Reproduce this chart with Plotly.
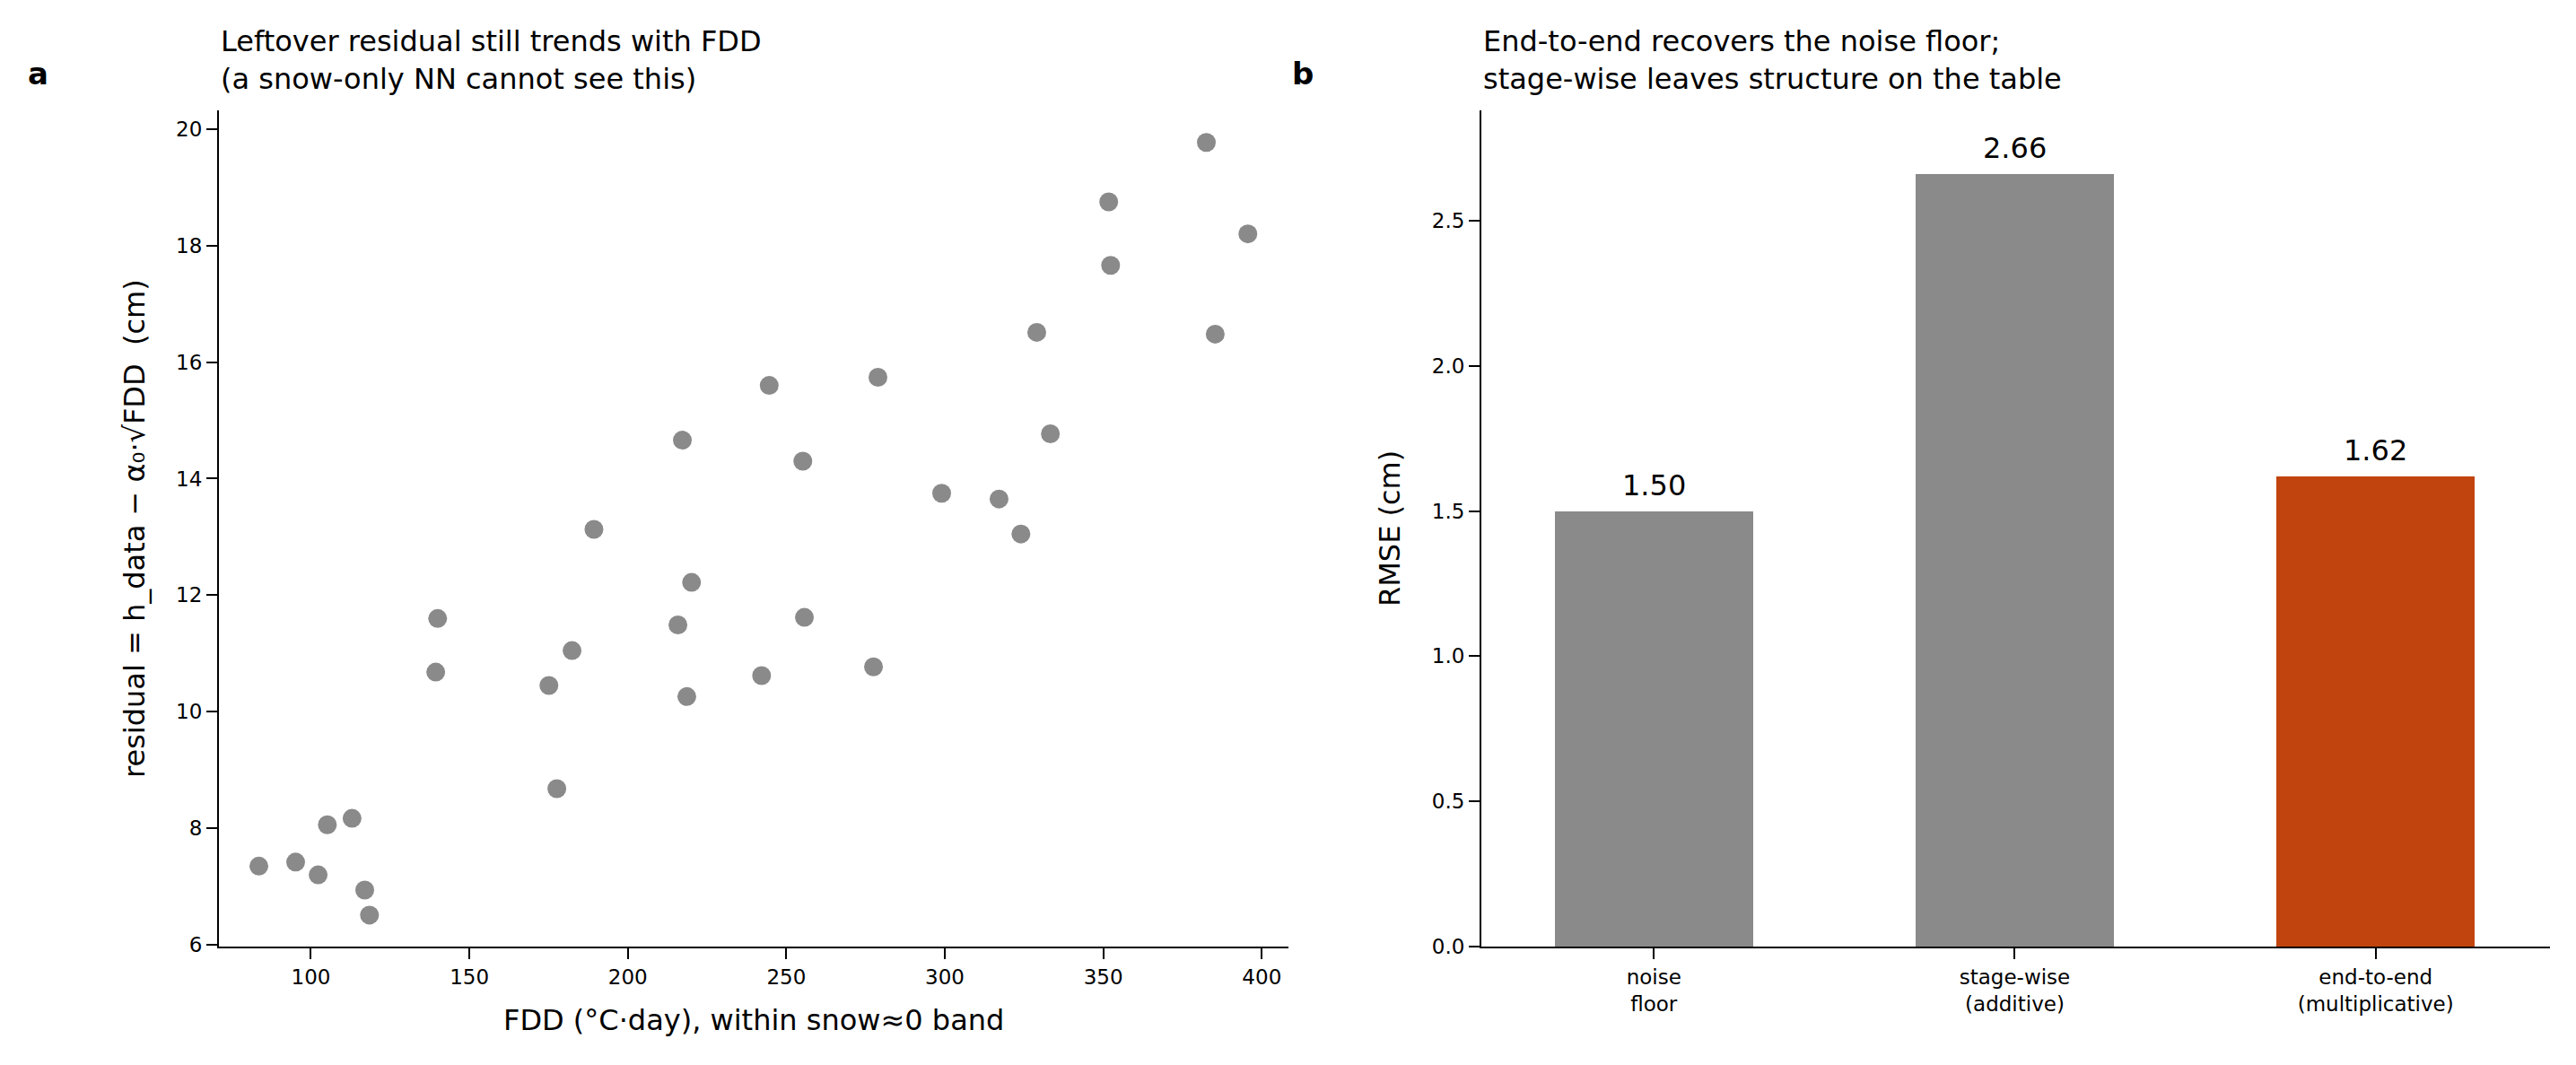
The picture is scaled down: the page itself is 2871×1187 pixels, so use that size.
import plotly.graph_objects as go

# ---- data ----
fdd = [83.6, 95.2, 102.3, 105.2, 113.0, 117.0, 118.5, 139.4, 140.0, 175.1,
       177.6, 182.4, 189.3, 215.8, 217.2, 218.6, 220.1, 242.2, 244.6, 255.2,
       255.7, 277.5, 278.9, 299.0, 317.1, 324.0, 329.0, 333.3, 351.7, 352.3,
       382.5, 385.3, 395.6]
residual = [7.35, 7.42, 7.20, 8.06, 8.17, 6.94, 6.51, 10.68, 11.60, 10.45,
            8.68, 11.05, 13.13, 11.49, 14.66, 10.26, 12.22, 10.62, 15.60, 14.30,
            11.62, 10.77, 15.74, 13.75, 13.65, 13.05, 16.51, 14.77, 18.75, 17.66,
            19.77, 16.48, 18.20]

methods = ["noise<br>floor", "stage-wise<br>(additive)", "end-to-end<br>(multiplicative)"]
rmse = [1.50, 2.66, 1.62]
bar_colors = ["#8a8a8a", "#8a8a8a", "#c1440e"]

x_ticks = [100, 150, 200, 250, 300, 350, 400]
y_ticks = [6, 8, 10, 12, 14, 16, 18, 20]
rmse_ticks = [0.0, 0.5, 1.0, 1.5, 2.0, 2.5]

W, H = 2871, 1187
FONT = "DejaVu Sans"

def px_x(p):
    return p / W

def px_y(p):
    return 1 - p / H

fig = go.Figure()

fig.add_trace(go.Scatter(
    x=fdd, y=residual, mode="markers",
    marker=dict(size=21, color="#8a8a8a", line=dict(width=0)),
    xaxis="x", yaxis="y", showlegend=False,
))

bar_pos = list(range(len(methods)))
fig.add_trace(go.Bar(
    x=bar_pos, y=rmse, width=0.55, marker=dict(color=bar_colors, line=dict(width=0)),
    xaxis="x2", yaxis="y2", showlegend=False,
))

axis_common = dict(
    showgrid=False, zeroline=False, showline=True, linecolor="black", linewidth=2,
    ticks="outside", ticklen=12, tickwidth=2, tickcolor="black",
    tickfont=dict(family=FONT, size=23, color="black"), mirror=False,
    automargin=False,
)

y_dom = [px_y(1055), px_y(123)]

fig.update_layout(
    width=W, height=H, margin=dict(l=0, r=0, t=0, b=0, pad=0, autoexpand=False),
    paper_bgcolor="white", plot_bgcolor="white", showlegend=False,
    font=dict(family=FONT, color="black"),
    xaxis=dict(domain=[px_x(244), px_x(1436)], range=[71.0, 408.4],
               tickvals=x_ticks, anchor="y", **axis_common),
    yaxis=dict(domain=y_dom, range=[5.97, 20.32], tickvals=y_ticks, anchor="x", **axis_common),
    xaxis2=dict(domain=[px_x(1651), px_x(2842)], range=[-0.478, 2.483],
                tickvals=bar_pos, ticktext=methods, anchor="y2", **axis_common),
    yaxis2=dict(domain=y_dom, range=[0, 2.88], tickvals=rmse_ticks, tickformat=".1f",
                anchor="x2", **axis_common),
    bargap=0,
)

annotations = []
# bar value labels
for xi, v in zip(bar_pos, rmse):
    annotations.append(dict(x=xi, y=v, xref="x2", yref="y2", text=f"{v:.2f}",
                            showarrow=False, yanchor="middle", yshift=29,
                            font=dict(family=FONT, size=32, color="black")))
# panel titles
annotations.append(dict(x=px_x(244), y=px_y(67), xref="paper", yref="paper",
                        xanchor="left", yanchor="middle", align="left", showarrow=False,
                        text="Leftover residual still trends with FDD<br>(a snow-only NN cannot see this)",
                        font=dict(family=FONT, size=32, color="black")))
annotations.append(dict(x=px_x(1651), y=px_y(67), xref="paper", yref="paper",
                        xanchor="left", yanchor="middle", align="left", showarrow=False,
                        text="End-to-end recovers the noise floor;<br>stage-wise leaves structure on the table",
                        font=dict(family=FONT, size=32, color="black")))
# panel letters
annotations.append(dict(x=px_x(29), y=px_y(82), xref="paper", yref="paper",
                        xanchor="left", yanchor="middle", showarrow=False, text="<b>a</b>",
                        font=dict(family=FONT, size=34, color="black")))
annotations.append(dict(x=px_x(1438), y=px_y(82), xref="paper", yref="paper",
                        xanchor="left", yanchor="middle", showarrow=False, text="<b>b</b>",
                        font=dict(family=FONT, size=34, color="black")))
# axis titles
annotations.append(dict(x=px_x(840), y=px_y(1137), xref="paper", yref="paper",
                        xanchor="center", yanchor="middle", showarrow=False,
                        text="FDD (°C·day), within snow≈0 band",
                        font=dict(family=FONT, size=32, color="black")))
annotations.append(dict(x=px_x(150), y=px_y(589), xref="paper", yref="paper",
                        xanchor="center", yanchor="middle", showarrow=False, textangle=-90,
                        text="residual = h_data − α₀·√FDD\u00a0 (cm)",
                        font=dict(family=FONT, size=32, color="black")))
annotations.append(dict(x=px_x(1549), y=px_y(589), xref="paper", yref="paper",
                        xanchor="center", yanchor="middle", showarrow=False, textangle=-90,
                        text="RMSE (cm)",
                        font=dict(family=FONT, size=32, color="black")))

fig.update_layout(annotations=annotations)

fig.write_html("out.html")
